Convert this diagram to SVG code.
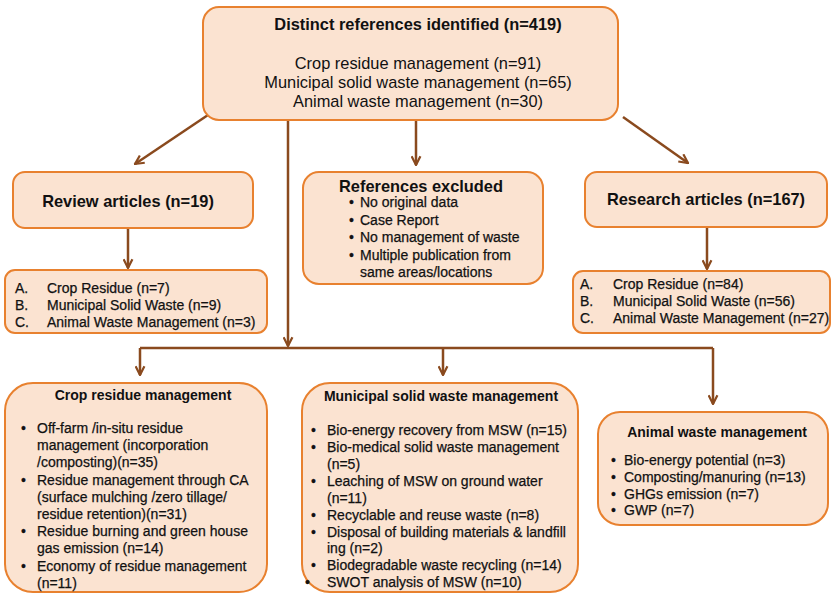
<svg xmlns="http://www.w3.org/2000/svg" width="831" height="594" viewBox="0 0 831 594">
<style>
.box{fill:#fbe3d1;stroke:#e8812f;stroke-width:2}
.t{font-family:"Liberation Sans",Arial,sans-serif;fill:#111111}
.h{font-weight:bold;font-size:16.4px;text-anchor:middle}
.s{font-weight:bold;font-size:14px;text-anchor:middle}
.m{font-size:16.4px;text-anchor:middle}
.b{font-size:14px;stroke:#111111;stroke-width:0.25}
.c{fill:none;stroke:#8a4a1e;stroke-width:2.5}
</style>
<defs>
<marker id="arr" viewBox="0 0 10 10" refX="9" refY="5" markerWidth="11" markerHeight="11" markerUnits="userSpaceOnUse" orient="auto">
<path d="M1,1 L9,5 L1,9" fill="none" stroke="#8a4a1e" stroke-width="2"/>
</marker>
</defs>
<rect width="831" height="594" fill="#ffffff"/>
<g id="connectors">
<path class="c" d="M208,115 L135,164" marker-end="url(#arr)"/>
<path class="c" d="M416,120 L416,165" marker-end="url(#arr)"/>
<path class="c" d="M623,117 L688,163" marker-end="url(#arr)"/>
<path class="c" d="M128,228 L128,268" marker-end="url(#arr)"/>
<path class="c" d="M707,227 L707,269" marker-end="url(#arr)"/>
<path class="c" d="M288,120 L288,346" marker-end="url(#arr)"/>
<path class="c" d="M140,348 L713,348"/>
<path class="c" d="M140,348 L140,375" marker-end="url(#arr)"/>
<path class="c" d="M443,348 L443,375" marker-end="url(#arr)"/>
<path class="c" d="M713,348 L713,404" marker-end="url(#arr)"/>
</g>
<g id="top">
<rect class="box" x="203" y="7" width="415" height="113" rx="16"/>
<text class="t h" x="418" y="30">Distinct references identified (n=419)</text>
<text class="t m" x="418" y="69">Crop residue management (n=91)</text>
<text class="t m" x="418" y="88">Municipal solid waste management (n=65)</text>
<text class="t m" x="418" y="107">Animal waste management (n=30)</text>
</g>
<g id="review">
<rect class="box" x="13" y="172" width="240" height="56" rx="12"/>
<text class="t h" x="128" y="207">Review articles (n=19)</text>
</g>
<g id="review-list">
<rect class="box" x="5" y="270" width="262" height="63" rx="10"/>
<text class="t b" x="15" y="293">A.</text>
<text class="t b" x="15" y="310">B.</text>
<text class="t b" x="15" y="327">C.</text>
<text class="t b" x="47" y="293">Crop Residue (n=7)</text>
<text class="t b" x="47" y="310">Municipal Solid Waste (n=9)</text>
<text class="t b" x="47" y="327">Animal Waste Management (n=3)</text>
</g>
<g id="excluded">
<rect class="box" x="303" y="172" width="240" height="112" rx="16"/>
<text class="t h" x="421" y="192">References excluded</text>
<g class="t b">
<text x="349" y="207">•</text><text x="360" y="207">No original data</text>
<text x="349" y="224.5">•</text><text x="360" y="224.5">Case Report</text>
<text x="349" y="242">•</text><text x="360" y="242">No management of waste</text>
<text x="349" y="259.5">•</text><text x="360" y="259.5">Multiple publication from</text>
<text x="360" y="277">same areas/locations</text>
</g>
</g>
<g id="research">
<rect class="box" x="585" y="172" width="242" height="55" rx="12"/>
<text class="t h" x="706" y="205">Research articles (n=167)</text>
</g>
<g id="research-list">
<rect class="box" x="573" y="271" width="257" height="62" rx="10"/>
<text class="t b" x="580" y="289">A.</text>
<text class="t b" x="580" y="306">B.</text>
<text class="t b" x="580" y="323">C.</text>
<text class="t b" x="613" y="289">Crop Residue (n=84)</text>
<text class="t b" x="613" y="306">Municipal Solid Waste (n=56)</text>
<text class="t b" x="613" y="323">Animal Waste Management (n=27)</text>
</g>
<g id="crop">
<rect class="box" x="5" y="383" width="262" height="209" rx="28"/>
<text class="t s" x="143" y="400">Crop residue management</text>
<g class="t b">
<text x="21" y="433">•</text><text x="37" y="433">Off-farm /in-situ residue</text>
<text x="37" y="450.2">management (incorporation</text>
<text x="37" y="467.4">/composting)(n=35)</text>
<text x="21" y="484.6">•</text><text x="37" y="484.6">Residue management through CA</text>
<text x="37" y="501.8">(surface mulching /zero tillage/</text>
<text x="37" y="519">residue retention)(n=31)</text>
<text x="21" y="536.2">•</text><text x="37" y="536.2">Residue burning and green house</text>
<text x="37" y="553.4">gas emission (n=14)</text>
<text x="21" y="570.6">•</text><text x="37" y="570.6">Economy of residue management</text>
<text x="37" y="587.8">(n=11)</text>
</g>
</g>
<g id="msw">
<rect class="box" x="302" y="383" width="276" height="209" rx="28"/>
<text class="t s" x="441" y="401">Municipal solid waste management</text>
<g class="t b">
<text x="311" y="435">•</text><text x="327" y="435">Bio-energy recovery from MSW (n=15)</text>
<text x="311" y="452">•</text><text x="327" y="452">Bio-medical solid waste management</text>
<text x="327" y="468.5">(n=5)</text>
<text x="311" y="486">•</text><text x="327" y="486">Leaching of MSW on ground water</text>
<text x="327" y="502.5">(n=11)</text>
<text x="311" y="519.5">•</text><text x="327" y="519.5">Recyclable and reuse waste (n=8)</text>
<text x="311" y="536.5">•</text><text x="327" y="536.5">Disposal of building materials &amp; landfill</text>
<text x="327" y="553">ing (n=2)</text>
<text x="311" y="570">•</text><text x="327" y="570">Biodegradable waste recycling (n=14)</text>
<text x="305" y="587">•</text><text x="327" y="587">SWOT analysis of MSW (n=10)</text>
</g>
</g>
<g id="animal">
<rect class="box" x="598" y="412" width="230" height="113" rx="22"/>
<text class="t s" x="717" y="437">Animal waste management</text>
<g class="t b">
<text x="611" y="465">•</text><text x="624" y="465">Bio-energy potential (n=3)</text>
<text x="611" y="482">•</text><text x="624" y="482">Composting/manuring (n=13)</text>
<text x="611" y="498.5">•</text><text x="624" y="498.5">GHGs emission (n=7)</text>
<text x="611" y="515">•</text><text x="624" y="515">GWP (n=7)</text>
</g>
</g>
</svg>
